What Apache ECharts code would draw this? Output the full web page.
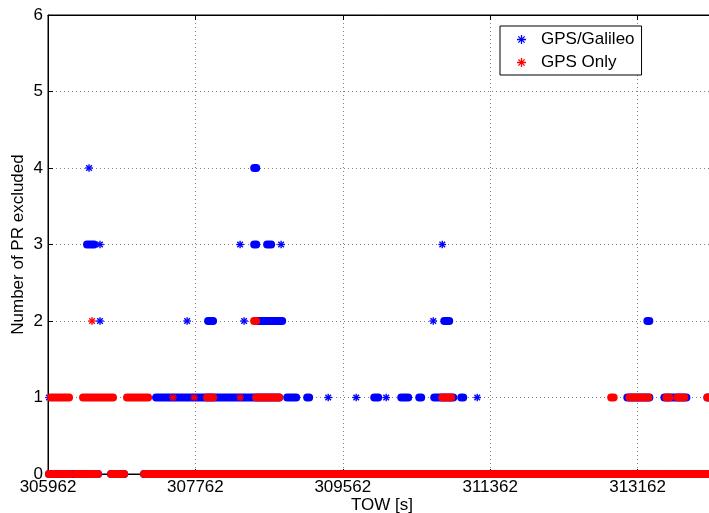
<!DOCTYPE html>
<html>
<head>
<meta charset="utf-8">
<title>PR excluded vs TOW</title>
<script src="https://cdn.jsdelivr.net/npm/echarts@6/dist/echarts.min.js"></script>
<style>
  html, body { margin: 0; padding: 0; background: #fff; }
  #chart { width: 709px; height: 513px; }
</style>
</head>
<body>
<div id="chart"></div>
<script>
// x range / ticks (TOW seconds)
var towMin = 305962;
var towMax = 314120;
var towStep = 1800;
var yMin = 0, yMax = 6, yStep = 1;

// runs of markers: [first TOW, last TOW] on each level (a single point has first == last)
var galileoLevel0 = [[305974, 306573], [306732, 306891], [307135, 314200]];
var galileoLevel1 = [[305974, 305974], [307282, 308785], [308883, 308993], [309127, 309151],
    [309384, 309384], [309726, 309726], [309946, 309995], [310092, 310092], [310276, 310361],
    [310496, 310520], [310679, 310911], [311009, 311033], [311204, 311204],
    [313037, 313306], [313490, 313758], [314015, 314076]];
var galileoLevel2 = [[306597, 306597], [307661, 307661], [307917, 307978], [308357, 308357],
    [308528, 308822], [310667, 310667], [310801, 310862], [313282, 313306]];
var galileoLevel3 = [[306439, 306524], [306597, 306597], [308308, 308308], [308480, 308505],
    [308638, 308687], [308809, 308809], [310777, 310777]];
var galileoLevel4 = [[306463, 306463], [308480, 308505]];

var gpsLevel0 = [[305974, 306060], [306110, 306230], [306290, 306400], [306440, 306573],
    [306732, 306891], [307135, 313270], [313295, 313540], [313565, 313680], [313705, 314200]];
var gpsLevel1 = [[305999, 306219], [306390, 306756], [306927, 307184], [307489, 307489],
    [307746, 307746], [307905, 307978], [308308, 308308], [308504, 308785], [310777, 310886],
    [312840, 312870], [313062, 313294], [313514, 313551], [313648, 313734], [314015, 314076]];
var gpsLevel2 = [[306500, 306500], [308479, 308504]];

function onLevel(level, list) {
    return list.map(function (r) { return [r[0], r[1], level]; });
}

// asterisk like matlab '*'
var asteriskIcon = 'path://M4.3,0L5.7,0L5.7,10L4.3,10Z M0,4.3L10,4.3L10,5.7L0,5.7Z M1,2L2,1L9,8L8,9Z M8,1L9,2L2,9L1,8Z';

function drawRun(params, api) {
    var lvl = api.value(2);
    var a = api.coord([api.value(0), lvl]);
    var b = api.coord([api.value(1), lvl]);
    var color = api.visual('color');
    if (b[0] - a[0] < 0.5) {
        var r = 3.8, d = 2.8, x = a[0], y = a[1];
        var st = { stroke: color, lineWidth: 1.4 };
        return {
            type: 'group',
            children: [
                { type: 'line', shape: { x1: x - r, y1: y, x2: x + r, y2: y }, style: st },
                { type: 'line', shape: { x1: x, y1: y - r, x2: x, y2: y + r }, style: st },
                { type: 'line', shape: { x1: x - d, y1: y - d, x2: x + d, y2: y + d }, style: st },
                { type: 'line', shape: { x1: x - d, y1: y + d, x2: x + d, y2: y - d }, style: st }
            ]
        };
    }
    return {
        type: 'rect',
        shape: { x: a[0] - 4, y: a[1] - 4, width: b[0] - a[0] + 8, height: 8, r: 4 },
        style: { fill: color }
    };
}

var font = "'Liberation Sans', Arial, Helvetica, sans-serif";
var chart = echarts.init(document.getElementById('chart'));

var option = {
    animation: false,
    backgroundColor: '#fff',
    textStyle: { fontFamily: font },
    grid: {
        left: 48, top: 15, right: -7, bottom: 39,
        outerBoundsMode: 'none',
        containLabel: false,
        show: true, borderColor: '#000', borderWidth: 1, backgroundColor: '#fff'
    },
    legend: {
        orient: 'vertical',
        left: 500, top: 26,
        padding: [5, 7, 4, 17],
        itemGap: 6,
        itemWidth: 9, itemHeight: 9,
        borderColor: '#000', borderWidth: 1,
        backgroundColor: '#fff',
        textStyle: { fontSize: 17, color: '#000', fontFamily: font, padding: [0, 0, 0, 10], lineHeight: 17 },
        data: [
            { name: 'GPS/Galileo', icon: asteriskIcon },
            { name: 'GPS Only', icon: asteriskIcon }
        ]
    },
    xAxis: [{
        type: 'value',
        min: towMin, max: towMax, interval: towStep,
        name: 'TOW [s]',
        nameLocation: 'middle',
        nameGap: 23,
        nameMoveOverlap: false,
        nameTextStyle: { fontSize: 17, color: '#000', fontFamily: font, verticalAlign: 'top' },
        axisLine: { show: true, lineStyle: { color: '#000', width: 1 } },
        axisTick: { show: true, inside: true, length: 5, lineStyle: { color: '#000' } },
        axisLabel: {
            fontSize: 17, color: '#000', margin: 5, showMaxLabel: false, fontFamily: font,
            formatter: function (v) { return String(v); }
        },
        splitLine: { show: true, lineStyle: { color: '#808080', type: [1, 3], width: 1 } }
    }, {
        type: 'value',
        position: 'top',
        min: towMin, max: towMax, interval: towStep,
        axisLine: { show: true, lineStyle: { color: '#000', width: 1 } },
        axisTick: { show: true, inside: true, length: 5, lineStyle: { color: '#000' } },
        axisLabel: { show: false },
        splitLine: { show: false }
    }],
    yAxis: {
        type: 'value',
        min: yMin, max: yMax, interval: yStep,
        name: 'Number of PR excluded',
        nameLocation: 'middle',
        nameGap: 21,
        nameMoveOverlap: false,
        nameTextStyle: { fontSize: 17, color: '#000', fontFamily: font },
        axisLine: { show: true, lineStyle: { color: '#000', width: 1 } },
        axisTick: { show: true, inside: true, length: 5, lineStyle: { color: '#000' } },
        axisLabel: { fontSize: 17, color: '#000', margin: 5, fontFamily: font },
        splitLine: { show: true, lineStyle: { color: '#808080', type: [1, 3], width: 1 } }
    },
    series: [
        {
            name: 'GPS/Galileo',
            type: 'custom',
            renderItem: drawRun,
            clip: false,
            itemStyle: { color: '#0000ff' },
            encode: { x: [0, 1], y: 2 },
            z: 3,
            data: [].concat(
                onLevel(0, galileoLevel0),
                onLevel(1, galileoLevel1),
                onLevel(2, galileoLevel2),
                onLevel(3, galileoLevel3),
                onLevel(4, galileoLevel4)
            )
        },
        {
            name: 'GPS Only',
            type: 'custom',
            renderItem: drawRun,
            clip: false,
            itemStyle: { color: '#ff0000' },
            encode: { x: [0, 1], y: 2 },
            z: 4,
            data: [].concat(
                onLevel(0, gpsLevel0),
                onLevel(1, gpsLevel1),
                onLevel(2, gpsLevel2)
            )
        }
    ]
};

chart.setOption(option);
</script>
</body>
</html>
